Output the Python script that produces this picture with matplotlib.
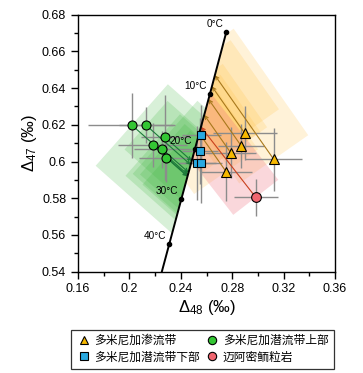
import numpy as np
import matplotlib
matplotlib.use('Agg')
from matplotlib import pyplot as plt
from matplotlib.patches import Polygon
from matplotlib.lines import Line2D

plt.rcParams['font.family'] = ['Liberation Sans', 'Noto Sans CJK SC', 'DejaVu Sans']
plt.rcParams['mathtext.fontset'] = 'custom'
plt.rcParams['mathtext.rm'] = 'Liberation Sans'
plt.rcParams['mathtext.it'] = 'Liberation Sans:italic'

# equilibrium curve, marked temperatures
eq_temps = [0, 10, 20, 30, 40]
eq_d48 = [0.2754, 0.2627, 0.2510, 0.2404, 0.2310]
eq_d47 = [0.6706, 0.6370, 0.6069, 0.5796, 0.5551]

# 多米尼加渗流带 (triangles)
vad_d48 = [0.2897, 0.2868, 0.2788, 0.3123, 0.2752]
vad_d47 = [0.6154, 0.6087, 0.6048, 0.6012, 0.5945]
vad_xerr = [0.025, 0.018, 0.020, 0.022, 0.020]
vad_yerr = [0.0146, 0.012, 0.014, 0.017, 0.016]

# 多米尼加潜流带上部 (green circles)
up_d48 = [0.2018, 0.2129, 0.2277, 0.2181, 0.2256, 0.2287]
up_d47 = [0.6199, 0.6198, 0.6132, 0.6090, 0.6067, 0.6021]
up_xerr = [0.034, 0.021, 0.019, 0.027, 0.022, 0.021]
up_yerr = [0.0177, 0.0098, 0.023, 0.012, 0.010, 0.013]

# 多米尼加潜流带下部 (blue squares)
lo_d48 = [0.2560, 0.2549, 0.2526, 0.2557]
lo_d47 = [0.6146, 0.6059, 0.5993, 0.5993]
lo_xerr = [0.015, 0.014, 0.015, 0.016]
lo_yerr = [0.016, 0.018, 0.020, 0.022]

# 迈阿密鲕粒岩 (red circle)
mi_d48 = [0.2983]
mi_d47 = [0.5805]
mi_xerr = [0.017]
mi_yerr = [0.010]

# kinetic slopes (dΔ47/dΔ48) of the correction vectors
slope_up = -0.62
slope_vad = -1.0
slope_mi = -0.9


def extend_line(xs, ys, y_lo, y_hi):
    # extrapolate both end segments to y_lo / y_hi
    k_hi = (xs[1] - xs[0]) / (ys[1] - ys[0])
    k_lo = (xs[-1] - xs[-2]) / (ys[-1] - ys[-2])
    x_hi = xs[0] + (y_hi - ys[0]) * k_hi
    x_lo = xs[-1] + (y_lo - ys[-1]) * k_lo
    return [x_hi] + list(xs) + [x_lo], [y_hi] + list(ys) + [y_lo]


def hit_line(x0, y0, k, lx, ly):
    for i in range(len(lx) - 1):
        fa = (ly[i] - y0) - k * (lx[i] - x0)
        fb = (ly[i + 1] - y0) - k * (lx[i + 1] - x0)
        if fa * fb <= 0:
            t = fa / (fa - fb)
            return lx[i] + t * (lx[i + 1] - lx[i]), ly[i] + t * (ly[i + 1] - ly[i])
    return x0, y0


def region(ax, x0, y0, x1, y1, xe, ye):
    T = ax.transData
    p0 = T.transform((x0, y0))
    p1 = T.transform((x1, y1))
    ex = T.transform((x0 + xe, y0))[0] - p0[0]
    ey = T.transform((x0, y0 + ye))[1] - p0[1]
    w = np.hypot(ex, ey)
    d = p1 - p0
    L = np.hypot(*d)
    u = d / L
    v = np.array([-u[1], u[0]])
    Lr = L + 0.65 * w
    pts = [p0 + w * v, p0 - w * v, p0 + Lr * u - w * v, p0 + Lr * u + w * v]
    return T.inverted().transform(pts)


fig = plt.figure(figsize=(3.63, 3.73), dpi=100)
ax = fig.add_axes([0.215, 0.2716, 0.708, 0.689])
ax.set_xlim(0.16, 0.36)
ax.set_ylim(0.54, 0.68)

ext_x, ext_y = extend_line(eq_d48, eq_d47, 0.50, 0.72)
left_clip = Polygon(list(zip(ext_x, ext_y)) + [(0.0, 0.50), (0.0, 0.72)], closed=True,
                    transform=ax.transData)
right_clip = Polygon(list(zip(ext_x, ext_y)) + [(0.6, 0.50), (0.6, 0.72)], closed=True,
                     transform=ax.transData)

groups = [
    (up_d48, up_d47, up_xerr, up_yerr, slope_up, '#3cb43c', 0.2, '#1d7a3a', left_clip),
    (vad_d48, vad_d47, vad_xerr, vad_yerr, slope_vad, '#ffc040', 0.2, '#a8781c', right_clip),
    (mi_d48, mi_d47, mi_xerr, mi_yerr, slope_mi, '#f07080', 0.28, '#c8401e', right_clip),
]

for xs, ys, xe, ye, k, fc, alpha, ac, clip in groups:
    for x0, y0, ex, ey in zip(xs, ys, xe, ye):
        x1, y1 = hit_line(x0, y0, k, ext_x, ext_y)
        poly = Polygon(region(ax, x0, y0, x1, y1, ex, ey), closed=True, facecolor=fc,
                       edgecolor='none', alpha=alpha, zorder=1)
        ax.add_patch(poly)
        poly.set_clip_path(clip)

# error bars
for xs, ys, xe, ye in [(up_d48, up_d47, up_xerr, up_yerr), (vad_d48, vad_d47, vad_xerr, vad_yerr),
                       (lo_d48, lo_d47, lo_xerr, lo_yerr), (mi_d48, mi_d47, mi_xerr, mi_yerr)]:
    ax.errorbar(xs, ys, xerr=xe, yerr=ye, fmt='none', ecolor='#8c8c8c', elinewidth=1.0,
                capsize=0, zorder=2)

# correction vectors
for xs, ys, xe, ye, k, fc, alpha, ac, clip in groups:
    for x0, y0 in zip(xs, ys):
        x1, y1 = hit_line(x0, y0, k, ext_x, ext_y)
        ax.annotate('', xy=(x1, y1), xytext=(x0, y0),
                    arrowprops=dict(arrowstyle='->', color=ac, lw=0.8, mutation_scale=6,
                                    shrinkA=0, shrinkB=0), zorder=2.5)

# equilibrium curve
line_x, line_y = extend_line(eq_d48, eq_d47, 0.54, eq_d47[0])
ax.plot(line_x[1:], line_y[1:], color='black', lw=1.4, zorder=3)
ax.plot(eq_d48, eq_d47, 'o', color='black', ms=3, zorder=3)
for t, x, y in zip(eq_temps, eq_d48, eq_d47):
    ax.annotate(f'{t}°C', (x, y), xytext=(-2, 2), textcoords='offset points',
                ha='right', va='bottom', fontsize=7.2, zorder=5)

ax.plot(up_d48, up_d47, 'o', ms=6.5, mfc='#33c633', mec='black', mew=0.8, zorder=4)
ax.plot(vad_d48, vad_d47, '^', ms=7.5, mfc='#f6b800', mec='black', mew=0.8, zorder=4)
ax.plot(lo_d48, lo_d47, 's', ms=6, mfc='#29a9e1', mec='black', mew=0.8, zorder=4)
ax.plot(mi_d48, mi_d47, 'o', ms=7, mfc='#f06670', mec='black', mew=0.8, zorder=4)

ax.set_xticks(np.arange(0.16, 0.3601, 0.04))
ax.set_xticks(np.arange(0.16, 0.3601, 0.02), minor=True)
ax.set_yticks(np.arange(0.54, 0.6801, 0.02))
ax.set_yticks(np.arange(0.54, 0.6801, 0.01), minor=True)
ax.xaxis.set_major_formatter(matplotlib.ticker.FuncFormatter(lambda v, p: f'{v:.2f}'.rstrip('0')))
ax.yaxis.set_major_formatter(matplotlib.ticker.FuncFormatter(lambda v, p: f'{v:.2f}'.rstrip('0')))
ax.tick_params(which='major', direction='out', length=5, width=1, labelsize=9)
ax.tick_params(which='minor', direction='out', length=3, width=1)
for s in ax.spines.values():
    s.set_linewidth(1)

ax.set_xlabel(r'$\Delta_{48}$ (‰)', fontsize=12, labelpad=2)
ax.set_ylabel(r'$\Delta_{47}$ (‰)', fontsize=12, labelpad=2)

handles = [
    Line2D([], [], ls='none', marker='^', ms=6, mfc='#f6b800', mec='black', mew=0.8),
    Line2D([], [], ls='none', marker='s', ms=5.5, mfc='#29a9e1', mec='black', mew=0.8),
    Line2D([], [], ls='none', marker='o', ms=6, mfc='#33c633', mec='black', mew=0.8),
    Line2D([], [], ls='none', marker='o', ms=6, mfc='#f06670', mec='black', mew=0.8),
]
labels = ['多米尼加渗流带', '多米尼加潜流带下部', '多米尼加潜流带上部', '迈阿密鲕粒岩']
leg = fig.legend(handles, labels, ncol=2, loc='lower left', bbox_to_anchor=(0.196, 0.011, 0.724, 0.11),
                 mode='expand', fontsize=8.5, frameon=True, fancybox=False, edgecolor='black',
                 handletextpad=0.3, columnspacing=0.6, handlelength=1.2, borderaxespad=0,
                 labelspacing=0.4, borderpad=0.45)
leg.get_frame().set_linewidth(0.9)

fig.savefig('out.png', dpi=100)
